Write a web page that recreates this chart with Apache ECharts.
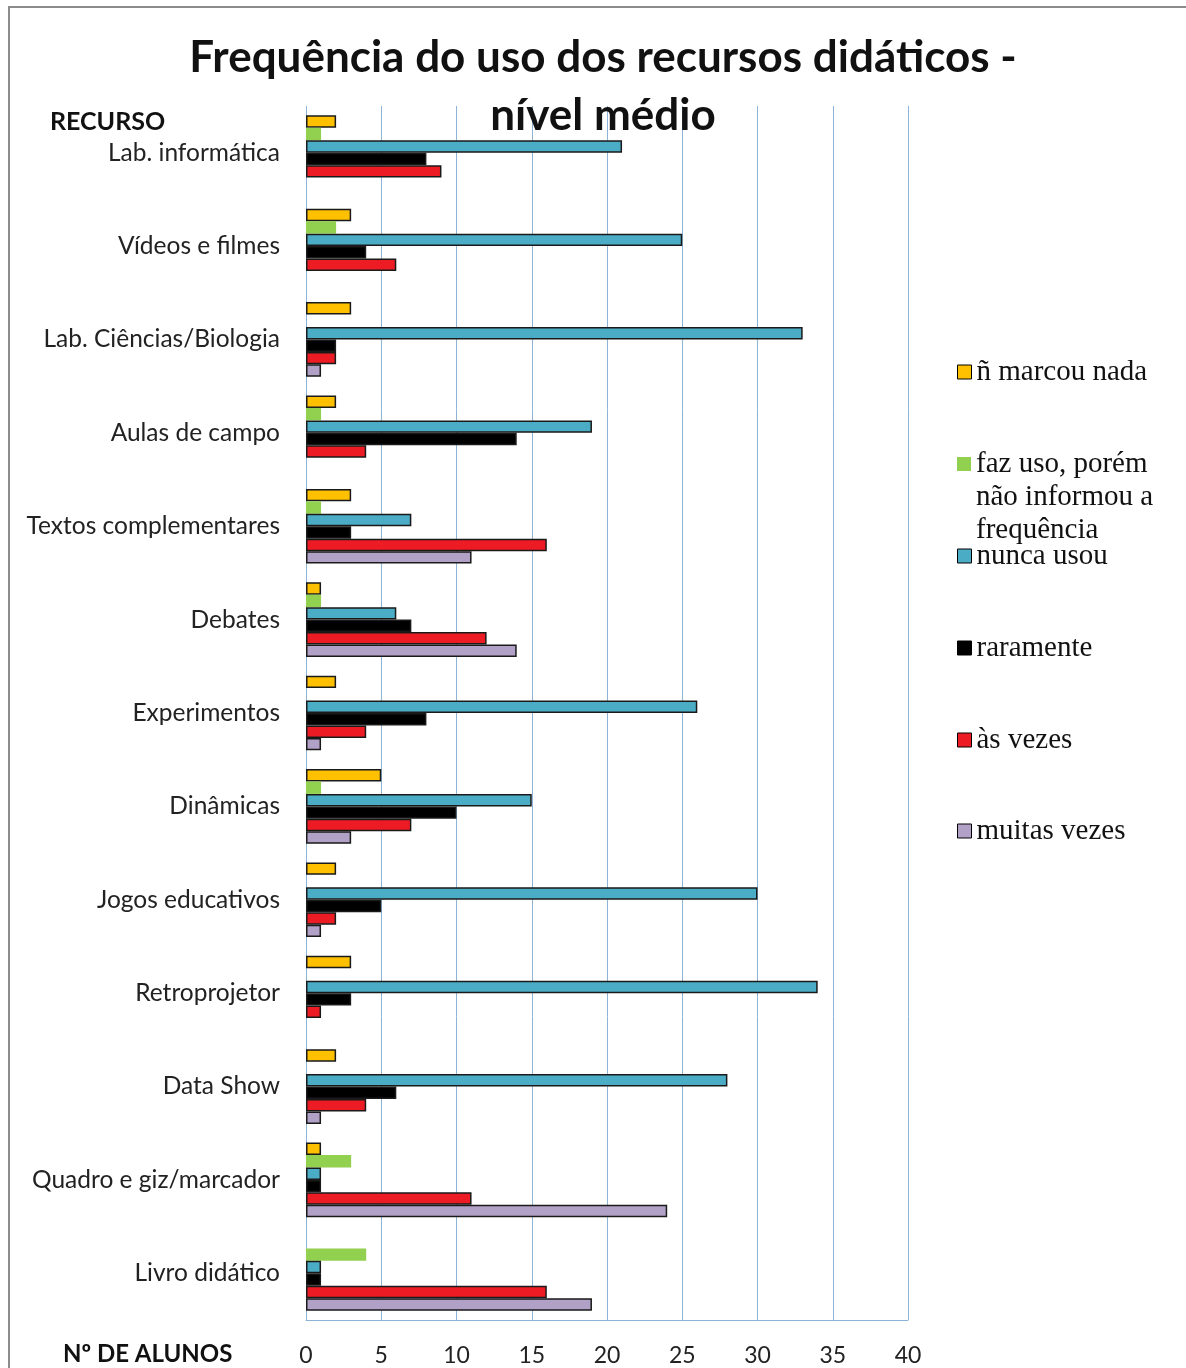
<!DOCTYPE html>
<html>
<head>
<meta charset="utf-8">
<style>
  html, body { margin: 0; padding: 0; background: #fff; }
  #chart { width: 1186px; height: 1368px; }
</style>
<script src="https://cdn.jsdelivr.net/npm/echarts@6/dist/echarts.min.js"></script>
</head>
<body>
<div id="chart"></div>
<script>
// Resources surveyed (top to bottom)
const categories = [
  'Lab. informática', 'Vídeos e filmes', 'Lab. Ciências/Biologia', 'Aulas de campo',
  'Textos complementares', 'Debates', 'Experimentos', 'Dinâmicas',
  'Jogos educativos', 'Retroprojetor', 'Data Show', 'Quadro e giz/marcador', 'Livro didático'
];

// Number of students per answer
const naoMarcou   = [2, 3, 3, 2, 3, 1, 2, 5, 2, 3, 2, 1, 0];
const fazUso      = [1, 2, 0, 1, 1, 1, 0, 1, 0, 0, 0, 3, 4];
const nuncaUsou   = [21, 25, 33, 19, 7, 6, 26, 15, 30, 34, 28, 1, 1];
const raramente   = [8, 4, 2, 14, 3, 7, 8, 10, 5, 3, 6, 1, 1];
const asVezes     = [9, 6, 2, 4, 16, 12, 4, 7, 2, 1, 4, 11, 16];
const muitasVezes = [0, 0, 1, 0, 11, 14, 1, 3, 1, 0, 1, 24, 19];

const xTicks = [0, 5, 10, 15, 20, 25, 30, 35, 40];

const FAZ_USO = 'faz uso, porém\nnão informou a\nfrequência';

const seriesDefs = [
  { name: 'ñ marcou nada', data: naoMarcou, color: '#FFC000', border: true },
  { name: FAZ_USO, data: fazUso, color: '#92D050', border: false },
  { name: 'nunca usou', data: nuncaUsou, color: '#4BACC6', border: true },
  { name: 'raramente', data: raramente, color: '#000000', border: true },
  { name: 'às vezes', data: asVezes, color: '#ED1C24', border: true },
  { name: 'muitas vezes', data: muitasVezes, color: '#B2A1C7', border: true }
];

const chart = echarts.init(document.getElementById('chart'), null, { renderer: 'canvas' });

// Legend: one entry per block; icon centre y for each entry
const LINE_H = 33;
const iconCentres = [372, 464, 556, 648, 740, 831];

const legends = seriesDefs.map((s, i) => {
  const multi = s.name === FAZ_USO;
  const blockH = multi ? LINE_H * 5 : LINE_H;
  return {
    data: [s.name],
    orient: 'vertical',
    left: 957,
    top: iconCentres[i] - blockH / 2,
    padding: 0,
    itemWidth: 14,
    itemHeight: 14,
    itemGap: 0,
    icon: 'rect',
    selectedMode: false,
    // the three-line label hangs below its icon
    formatter: name => multi ? '\n\n' + name : name,
    itemStyle: s.border ? { borderColor: '#000', borderWidth: 1 } : { borderWidth: 0 },
    textStyle: {
      fontFamily: 'Liberation Serif',
      fontSize: 29,
      color: '#111',
      lineHeight: LINE_H
    }
  };
});

chart.setOption({
  backgroundColor: '#fff',
  animation: false,
  title: {
    text: 'Frequência do uso dos recursos didáticos -\nnível médio',
    left: 598,
    top: 24,
    textAlign: 'center',
    textStyle: {
      fontFamily: 'Lato',
      fontWeight: 'bold',
      fontSize: 44,
      lineHeight: 58,
      color: '#111'
    }
  },
  legend: legends,
  grid: { left: 306, right: 278, top: 106, bottom: 48, containLabel: false },
  xAxis: {
    type: 'value',
    min: 0,
    max: 40,
    interval: 5,
    axisLine: { show: true, lineStyle: { color: '#8DB4D6', width: 1 } },
    axisTick: { show: false },
    splitLine: { show: true, lineStyle: { color: '#8DB4D6', width: 1 } },
    axisLabel: {
      fontFamily: 'Lato',
      fontSize: 23,
      color: '#222',
      margin: 24,
      formatter: v => xTicks.includes(v) ? String(v) : ''
    }
  },
  yAxis: {
    type: 'category',
    data: categories,
    inverse: true,
    axisLine: { show: false },
    axisTick: { show: false },
    splitLine: { show: false },
    axisLabel: {
      fontFamily: 'Lato',
      fontSize: 24.5,
      color: '#222',
      margin: 26
    }
  },
  graphic: [
    {
      type: 'rect',
      shape: { x: 9, y: 7, width: 1190, height: 1400 },
      style: { fill: 'none', stroke: '#8c8c8c', lineWidth: 2 },
      silent: true
    },
    {
      type: 'text',
      left: 50,
      top: 109,
      style: { text: 'RECURSO', font: 'bold 25px Lato', fill: '#111' }
    },
    {
      type: 'text',
      left: 63,
      top: 1342,
      style: { text: 'Nº DE ALUNOS', font: 'bold 24px Lato', fill: '#111' }
    }
  ],
  series: seriesDefs.map(s => ({
    type: 'bar',
    name: s.name,
    // a zero count draws no bar
    data: s.data.map(v => (v === 0 ? null : v)),
    barGap: '0%',
    barCategoryGap: '20%',
    itemStyle: {
      color: s.color,
      borderColor: s.border ? '#1a1a1a' : s.color,
      borderWidth: s.border ? 1.5 : 0
    }
  }))
});
</script>
</body>
</html>
